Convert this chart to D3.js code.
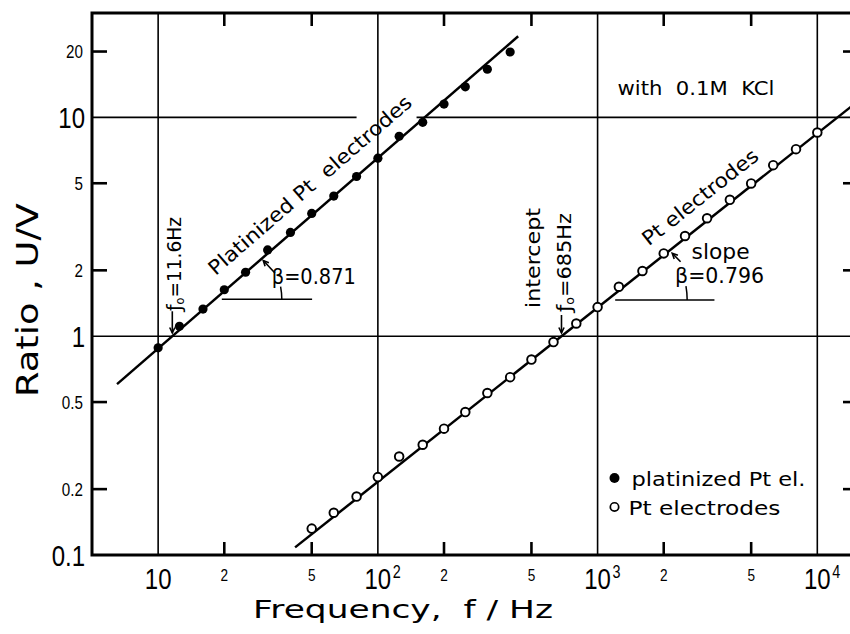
<!DOCTYPE html>
<html><head><meta charset="utf-8">
<script src="https://cdn.jsdelivr.net/npm/d3@7"></script>
<style>
html,body{margin:0;padding:0;background:#fff;}
svg{display:block;}
text{white-space:pre;}
</style></head>
<body>
<svg id="chart" width="850" height="634"></svg>
<script>
// ---------------- data ----------------
const freqPlat  = [10,12.5,16,20,25,31.5,40,50,63,80,100,125,160,200,250,315,400];
const ratioPlat = [0.885,1.11,1.33,1.63,1.96,2.48,2.98,3.64,4.37,5.37,6.51,8.20,9.49,11.5,13.8,16.6,19.9];
const freqPt    = [50,63,80,100,125,160,200,250,315,400,500,630,800,1000,1250,1600,2000,2500,3150,4000,5000,6300,8000,10000];
const ratioPt   = [0.132,0.156,0.185,0.227,0.282,0.319,0.378,0.450,0.550,0.650,0.782,0.940,1.143,1.358,1.683,1.986,2.39,2.87,3.46,4.20,4.99,6.05,7.16,8.53];

const fitPlat = {f0: 11.6, beta: 0.871, from: 6.5, to: 435};
const fitPt   = {f0: 685,  beta: 0.796, from: 42,  to: 15000};

const xMajor = [10, 100, 1000, 10000];
const xMajorExp = ["", "2", "3", "4"];
const xMinor = [20, 50, 200, 500, 2000, 5000];
const xMinorLabels = ["2", "5", "2", "5", "2", "5"];
const yMajor = [0.1, 1, 10];
const yMajorLabels = ["0.1", "1", "10"];
const yMinor = [0.2, 0.5, 2, 5, 20];
const yMinorLabels = ["0.2", "0.5", "2", "5", "20"];

// ---------------- scales ----------------
const svg = d3.select("#chart");
const L = 92, R = 856, T = 13, B = 555;
const x = d3.scaleLog().domain([5, 15000]).range([L, R]);
const y = d3.scaleLog().domain([0.1, 30]).range([B, T]);
const P = (f, v) => [x(f), y(v)];
const digitFont = "'Liberation Sans', Arial, sans-serif";
const textFont = "'DejaVu Sans', Verdana, sans-serif";
const NARROW = 0.8;

svg.append("defs").append("clipPath").attr("id", "clip")
  .append("rect").attr("x", L).attr("y", T).attr("width", R - L).attr("height", B - T);

function narrow(sel) {
  const n = sel.node();
  const w = n.getComputedTextLength();
  sel.attr("textLength", w * NARROW).attr("lengthAdjust", "spacingAndGlyphs");
  return w * NARROW;
}

// ---------------- grid ----------------
const grid = svg.append("g").attr("stroke", "#000").attr("stroke-width", 1.6);
xMajor.forEach(f => grid.append("line")
  .attr("x1", x(f)).attr("x2", x(f)).attr("y1", T).attr("y2", B));
grid.append("line").attr("x1", L).attr("x2", R).attr("y1", y(1)).attr("y2", y(1));
grid.append("line").attr("x1", L).attr("x2", x(80)).attr("y1", y(10)).attr("y2", y(10));
grid.append("line").attr("x1", x(150)).attr("x2", R).attr("y1", y(10)).attr("y2", y(10));

// ---------------- frame & ticks ----------------
const frame = svg.append("g").attr("stroke", "#000").attr("fill", "none");
frame.append("path").attr("stroke-width", 3)
  .attr("d", `M${R},${T}H${L}V${B}H${R}`);
const tk = 13;
xMinor.forEach(f => {
  frame.append("line").attr("stroke-width", 2.6).attr("x1", x(f)).attr("x2", x(f)).attr("y1", B).attr("y2", B - tk);
  frame.append("line").attr("stroke-width", 2.6).attr("x1", x(f)).attr("x2", x(f)).attr("y1", T).attr("y2", T + tk);
});
yMinor.forEach(v => {
  frame.append("line").attr("stroke-width", 2.6).attr("x1", L).attr("x2", L + tk + 2).attr("y1", y(v)).attr("y2", y(v));
  frame.append("line").attr("stroke-width", 2.6).attr("x1", R).attr("x2", R - tk).attr("y1", y(v)).attr("y2", y(v));
});

// ---------------- tick labels ----------------
const lab = svg.append("g").attr("fill", "#000");
xMajor.forEach((f, i) => {
  const g = lab.append("g").attr("transform", `translate(${x(f)},589) scale(${NARROW},1)`);
  const t = g.append("text").attr("font-family", digitFont).attr("font-size", 30);
  const base = t.append("tspan").text("10");
  const w0 = base.node().getComputedTextLength();
  t.attr("x", -w0 / 2);
  if (xMajorExp[i]) {
    t.append("tspan").attr("dx", 2).attr("dy", -11).attr("font-size", 18).text(xMajorExp[i]);
  }
});
xMinor.forEach((f, i) => {
  const t = lab.append("text").attr("x", x(f)).attr("y", 581).attr("text-anchor", "middle")
    .attr("font-family", digitFont).attr("font-size", 17).text(xMinorLabels[i]);
  narrow(t);
});
yMajor.forEach((v, i) => {
  const t = lab.append("text").attr("x", 85).attr("y", y(v) + 10.5).attr("text-anchor", "end")
    .attr("font-family", digitFont).attr("font-size", 30).text(yMajorLabels[i]);
  narrow(t);
});
yMinor.forEach((v, i) => {
  const t = lab.append("text").attr("x", 83).attr("y", y(v) + 6.8).attr("text-anchor", "end")
    .attr("font-family", digitFont).attr("font-size", 19).text(yMinorLabels[i]);
  narrow(t);
});

// ---------------- axis titles ----------------
svg.append("text").attr("x", 253).attr("y", 618)
  .attr("font-family", textFont).attr("font-size", 25)
  .attr("textLength", 300).attr("lengthAdjust", "spacingAndGlyphs")
  .text("Frequency,  f / Hz");
svg.append("text").attr("transform", "translate(38,397) rotate(-90)")
  .attr("font-family", textFont).attr("font-size", 31)
  .attr("textLength", 194).attr("lengthAdjust", "spacingAndGlyphs")
  .text("Ratio , U/V");

// ---------------- fit lines ----------------
const fitVal = (fit, f) => Math.pow(f / fit.f0, fit.beta);
const lineGen = d3.line().x(d => x(d[0])).y(d => y(d[1]));
const plotG = svg.append("g").attr("clip-path", "url(#clip)");
[fitPlat, fitPt].forEach(fit => {
  const pts = [fit.from, fit.to].map(f => [f, fitVal(fit, f)]);
  plotG.append("path").attr("d", lineGen(pts)).attr("fill", "none")
    .attr("stroke", "#000").attr("stroke-width", 2.5);
});

// ---------------- points ----------------
plotG.selectAll("circle.plat").data(freqPlat).enter().append("circle")
  .attr("class", "plat").attr("cx", d => x(d)).attr("cy", (d, i) => y(ratioPlat[i]))
  .attr("r", 4.6).attr("fill", "#000");
plotG.selectAll("circle.pt").data(freqPt).enter().append("circle")
  .attr("class", "pt").attr("cx", d => x(d)).attr("cy", (d, i) => y(ratioPt[i]))
  .attr("r", 4.3).attr("fill", "#fff").attr("stroke", "#000").attr("stroke-width", 1.9);

// ---------------- annotations ----------------
const ann = svg.append("g").attr("fill", "#000");
function angleOf(fit) {
  const a = P(fit.from, fitVal(fit, fit.from)), b = P(fit.to, fitVal(fit, fit.to));
  return Math.atan2(b[1] - a[1], b[0] - a[0]) * 180 / Math.PI;
}
function lineLabel(fit, fStart, txt, len, fs, off) {
  const p = P(fStart, fitVal(fit, fStart));
  ann.append("text").attr("transform", `translate(${p[0]},${p[1]}) rotate(${angleOf(fit)}) translate(0,${-off})`)
    .attr("font-family", textFont).attr("font-size", fs)
    .attr("textLength", len).attr("lengthAdjust", "spacingAndGlyphs").text(txt);
}
lineLabel(fitPlat, 20.5, "Platinized Pt  electrodes", 262, 20, 17);
lineLabel(fitPt, 1897, "Pt electrodes", 142, 20, 16);

function plainText(f, v, txt, fs, len) {
  const p = P(f, v);
  const t = ann.append("text").attr("x", p[0]).attr("y", p[1])
    .attr("font-family", textFont).attr("font-size", fs).text(txt);
  if (len) t.attr("textLength", len).attr("lengthAdjust", "spacingAndGlyphs");
  return t;
}
plainText(32.9, 1.73, "β=0.871", 21, 84);
plainText(2679, 2.253, "slope", 21, 58);
plainText(2252, 1.750, "β=0.796", 21, 89);
plainText(1232, 12.66, "with  0.1M  KCl", 20, 157);

function rotText(f, v, parts, fs, len) {
  const p = P(f, v);
  const t = ann.append("text").attr("transform", `translate(${p[0]},${p[1]}) rotate(-90)`)
    .attr("font-family", textFont).attr("font-size", fs);
  parts.forEach(pt => {
    const s = t.append("tspan").text(pt.t);
    if (pt.sub) s.attr("font-size", fs * 0.6).attr("dy", 3);
    if (pt.up) s.attr("dy", -3);
  });
  if (len) t.attr("textLength", len).attr("lengthAdjust", "spacingAndGlyphs");
}
rotText(12.66, 1.304, [{t: "ƒ"}, {t: "o", sub: true}, {t: "=11.6Hz", up: true}], 19, 94);
rotText(755.7, 1.290, [{t: "ƒ"}, {t: "o", sub: true}, {t: "=685Hz", up: true}], 19, 99);
rotText(549, 1.346, [{t: "intercept"}], 19, 100);

const arrows = svg.append("g").attr("stroke", "#000").attr("fill", "none").attr("stroke-width", 1.6);
function arrow(f1, v1, f2, v2) {
  const a = P(f1, v1), b = P(f2, v2);
  const ang = Math.atan2(b[1] - a[1], b[0] - a[0]);
  const h = 6, w = 0.45;
  arrows.append("line").attr("x1", a[0]).attr("y1", a[1]).attr("x2", b[0]).attr("y2", b[1]);
  arrows.append("path").attr("d",
    `M${b[0] - h * Math.cos(ang - w)},${b[1] - h * Math.sin(ang - w)}L${b[0]},${b[1]}L${b[0] - h * Math.cos(ang + w)},${b[1] - h * Math.sin(ang + w)}`);
}
arrow(fitPlat.f0, 1.30, fitPlat.f0, 1.035);
arrow(fitPt.f0, 1.25, fitPt.f0, 1.035);
arrow(34.0, 1.945, 30.1, 2.218);
arrow(2386, 2.19, 2187, 2.393);

function slopeMark(fit, v, fEnd, gap, radius, degs) {
  const fC = fit.f0 * Math.pow(v, 1 / fit.beta);
  const c = P(fC, v);
  arrows.append("line").attr("x1", c[0] + gap).attr("x2", x(fEnd)).attr("y1", c[1]).attr("y2", c[1]).attr("stroke-width", 1.5);
  const a1 = -degs * Math.PI / 180;
  arrows.append("path").attr("stroke-width", 1.5).attr("d",
    `M${c[0] + radius},${c[1]} A${radius},${radius} 0 0 0 ${c[0] + radius * Math.cos(a1)},${c[1] + radius * Math.sin(a1)}`);
}
slopeMark(fitPlat, 1.474, 50.2, 7, 67, 11);
slopeMark(fitPt, 1.464, 3403, 8, 80, 10);

// ---------------- legend ----------------
const lg = svg.append("g");
const l1 = P(1194, 0.2248), l2 = P(1194, 0.1658);
lg.append("circle").attr("cx", l1[0]).attr("cy", l1[1]).attr("r", 5).attr("fill", "#000");
lg.append("circle").attr("cx", l2[0]).attr("cy", l2[1]).attr("r", 4.2).attr("fill", "#fff").attr("stroke", "#000").attr("stroke-width", 1.7);
const t1 = P(1427, 0.2067), t2 = P(1382, 0.1524);
lg.append("text").attr("x", t1[0]).attr("y", t1[1]).attr("font-family", textFont).attr("font-size", 20)
  .attr("textLength", 174).attr("lengthAdjust", "spacingAndGlyphs").text("platinized Pt el.");
lg.append("text").attr("x", t2[0]).attr("y", t2[1]).attr("font-family", textFont).attr("font-size", 20)
  .attr("textLength", 152).attr("lengthAdjust", "spacingAndGlyphs").text("Pt electrodes");
</script>
</body></html>
